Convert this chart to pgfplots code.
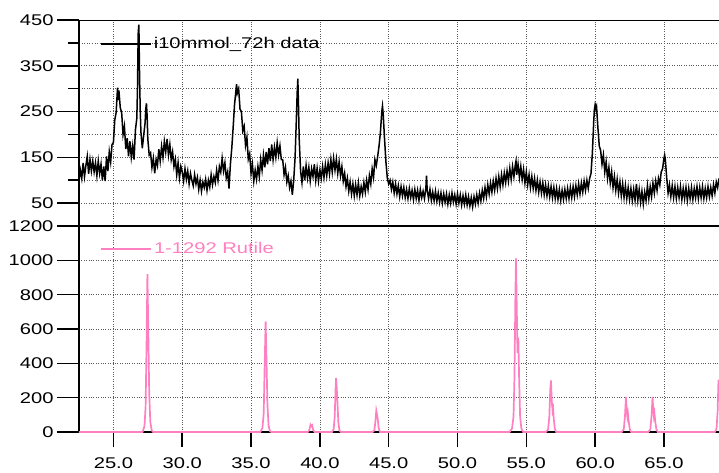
\documentclass[border=0pt]{standalone}
\usepackage{fontspec}
\setmainfont{Liberation Sans}[FakeStretch=1.3]
\usepackage{pgfplots}
\pgfplotsset{compat=1.18}
\definecolor{rutile}{HTML}{FF80C0}

\pgfplotsset{
  xrd/.style={
    scale only axis, width=640pt, height=206pt,
    xmin=22.5, xmax=69,
    axis lines=left,
    axis line style={-, line width=1.6pt},
    xtick={25,30,...,65},
    tick align=outside,
    major tick length=22pt, minor tick length=11pt,
    tick style={black, line width=1.6pt},
    grid style={dotted, black!65, line width=0.6pt},
    minor grid style={dotted, black!65, line width=0.6pt},
    /pgf/number format/assume math mode=true,
    /pgf/number format/1000 sep={},
    ticklabel style={font=\fontsize{15.5}{18}\selectfont},
    legend style={draw=none, fill=none, inner sep=0pt,
      font=\fontsize{15.5}{18}\selectfont, anchor=west},
    legend image code/.code={\draw[#1] (0pt,0pt) -- (50pt,0pt);},
    clip=true,
  }
}

\begin{document}
\begin{tikzpicture}
\path[use as bounding box] (-79pt,-40pt) rectangle (640pt,432pt);

% lower panel: reference pattern
\begin{axis}[xrd, at={(0,0)}, anchor=south west,
  ymin=0, ymax=1200, ytick={0,200,...,1200},
  xticklabels={25.0,30.0,35.0,40.0,45.0,50.0,55.0,60.0,65.0},
  xtick style={/pgfplots/major tick length=15pt},
  grid=major,
  legend style={at={(0.033,0.888)}, text=rutile},
  ]
\addplot[rutile, line width=1.7pt] coordinates {
(22.5,0)
(27.12,0) (27.26,35) (27.34,150) (27.41,520) (27.47,920) (27.53,620) (27.6,230) (27.68,60) (27.78,10) (27.88,0)
(35.68,0) (35.83,25) (35.92,110) (35.99,390) (36.06,645) (36.12,430) (36.19,160) (36.27,40) (36.37,5) (36.47,0)
(39.13,0) (39.25,15) (39.32,43) (39.38,35) (39.44,40) (39.52,10) (39.62,0)
(40.88,0) (41.0,15) (41.08,90) (41.14,250) (41.18,315) (41.23,250) (41.28,170) (41.34,60) (41.42,10) (41.52,0)
(43.83,0) (43.96,10) (44.04,65) (44.1,125) (44.16,100) (44.2,80) (44.27,25) (44.37,0)
(53.78,0) (53.96,20) (54.07,90) (54.14,320) (54.21,820) (54.25,1011) (54.31,700) (54.36,460) (54.42,550) (54.48,300) (54.55,90) (54.64,20) (54.77,0)
(56.43,0) (56.58,15) (56.67,85) (56.74,250) (56.79,301) (56.85,180) (56.89,140) (56.93,165) (56.99,80) (57.07,20) (57.17,0)
(61.93,0) (62.08,15) (62.17,95) (62.24,204) (62.3,120) (62.34,90) (62.38,110) (62.44,60) (62.52,15) (62.62,0)
(63.86,0) (64.01,15) (64.1,95) (64.17,204) (64.23,120) (64.27,90) (64.31,110) (64.37,60) (64.45,15) (64.55,0)
(68.7,0) (68.82,20) (68.9,120) (68.96,300) (69.0,300)
};
\addlegendentry{1-1292 Rutile}
\end{axis}

% upper panel: measured data
\begin{axis}[xrd, at={(0,206pt)}, anchor=south west,
  ymin=0, ymax=450, ytick={50,150,...,450}, minor ytick={100,200,300,400},
  xticklabels={}, xtick style={draw=none},
  grid=both,
  legend style={at={(0.033,0.883)}, text=black},
  ]
\addplot[black, line width=1.5pt] coordinates {
(22.5,100) (22.6,122) (22.7,104) (22.8,138) (22.9,108) (23.0,132) (23.1,152) (23.2,114) (23.3,145) (23.4,120)
(23.5,142) (23.6,118) (23.7,138) (23.8,110) (23.9,142) (24.0,115) (24.1,135) (24.2,100) (24.3,130) (24.4,98)
(24.5,152) (24.6,120) (24.7,162) (24.8,140) (24.9,178) (25.0,182) (25.1,232) (25.2,248) (25.3,302) (25.35,275)
(25.4,296) (25.5,258) (25.6,248) (25.7,200) (25.8,218) (25.9,168) (26.0,192) (26.1,152) (26.2,185) (26.3,150)
(26.4,175) (26.5,145) (26.6,210) (26.7,235) (26.75,300) (26.8,420) (26.85,440) (26.9,330) (26.95,250) (27.0,205)
(27.1,170) (27.2,198) (27.3,225) (27.35,255) (27.4,268) (27.45,240) (27.5,190) (27.6,155) (27.7,160) (27.8,128)
(27.9,148) (28.0,115) (28.1,145) (28.2,132) (28.3,168) (28.4,142) (28.5,174) (28.6,150) (28.7,185) (28.8,162)
(28.9,190) (29.0,155) (29.1,178) (29.2,145) (29.3,162) (29.4,130) (29.5,146) (29.6,112) (29.7,138) (29.8,105)
(29.9,130) (30.0,118) (30.1,98) (30.2,125) (30.3,102) (30.4,120) (30.5,92) (30.6,115) (30.7,100) (30.8,88)
(30.9,112) (31.0,92) (31.1,106) (31.2,80) (31.3,100) (31.4,76) (31.5,96) (31.6,84) (31.7,102) (31.8,78)
(31.9,100) (32.0,85) (32.1,112) (32.2,90) (32.3,108) (32.4,95) (32.5,122) (32.6,100) (32.7,130) (32.8,118)
(32.9,148) (33.0,120) (33.1,138) (33.2,105) (33.3,118) (33.4,82) (33.5,135) (33.6,170) (33.7,215) (33.8,265)
(33.9,295) (33.95,310) (34.0,290) (34.1,300) (34.2,255) (34.3,250) (34.4,208) (34.5,218) (34.6,176) (34.7,194)
(34.8,146) (34.9,158) (35.0,115) (35.1,135) (35.2,98) (35.3,122) (35.4,102) (35.5,130) (35.6,108) (35.7,145)
(35.8,122) (35.9,155) (36.0,128) (36.1,162) (36.2,135) (36.3,170) (36.4,142) (36.5,178) (36.6,145) (36.7,172)
(36.8,150) (36.9,182) (37.0,155) (37.1,175) (37.2,145) (37.3,145) (37.4,112) (37.5,128) (37.6,96) (37.7,110)
(37.8,84) (37.9,98) (38.0,68) (38.1,100) (38.2,150) (38.3,240) (38.35,290) (38.4,322) (38.45,260) (38.5,190)
(38.6,120) (38.7,95) (38.8,130) (38.9,100) (39.0,132) (39.1,105) (39.2,128) (39.3,98) (39.4,125) (39.5,108)
(39.6,135) (39.7,100) (39.8,126) (39.9,98) (40.0,122) (40.1,104) (40.2,130) (40.3,106) (40.4,134) (40.5,110)
(40.6,138) (40.7,114) (40.8,145) (40.9,118) (41.0,148) (41.1,122) (41.2,146) (41.3,115) (41.4,140) (41.5,110)
(41.6,130) (41.7,98) (41.8,115) (41.9,86) (42.0,104) (42.1,76) (42.2,96) (42.3,70) (42.4,92) (42.5,66)
(42.6,90) (42.7,68) (42.8,94) (42.9,66) (43.0,86) (43.1,70) (43.2,95) (43.3,74) (43.4,100) (43.5,80)
(43.6,110) (43.7,92) (43.8,125) (43.9,106) (44.0,145) (44.1,132) (44.2,152) (44.3,175) (44.4,205) (44.5,250)
(44.55,262) (44.6,245) (44.7,190) (44.8,140) (44.9,105) (45.0,92) (45.1,100) (45.2,80) (45.3,96) (45.4,72)
(45.5,92) (45.6,70) (45.7,88) (45.8,64) (45.9,86) (46.0,66) (46.1,84) (46.2,62) (46.3,80) (46.4,60)
(46.5,82) (46.6,62) (46.7,78) (46.8,58) (46.9,80) (47.0,60) (47.1,78) (47.2,56) (47.3,80) (47.4,62)
(47.5,76) (47.6,60) (47.7,82) (47.75,110) (47.8,78) (47.9,60) (48.0,80) (48.1,56) (48.2,74) (48.3,55)
(48.4,76) (48.5,54) (48.6,72) (48.7,52) (48.8,72) (48.9,50) (49.0,70) (49.1,52) (49.2,70) (49.3,48)
(49.4,68) (49.5,50) (49.6,72) (49.7,52) (49.8,68) (49.9,48) (50.0,70) (50.1,50) (50.2,68) (50.3,46)
(50.4,66) (50.5,48) (50.6,68) (50.7,46) (50.8,64) (50.9,44) (51.0,62) (51.1,42) (51.2,64) (51.3,48)
(51.4,68) (51.5,50) (51.6,72) (51.7,55) (51.8,78) (51.9,60) (52.0,84) (52.1,64) (52.2,90) (52.3,70)
(52.4,94) (52.5,74) (52.6,98) (52.7,78) (52.8,104) (52.9,82) (53.0,108) (53.1,86) (53.2,112) (53.3,90)
(53.4,116) (53.5,95) (53.6,120) (53.7,98) (53.8,126) (53.9,102) (54.0,130) (54.1,108) (54.2,134) (54.25,142)
(54.3,112) (54.4,135) (54.5,106) (54.6,130) (54.7,102) (54.8,124) (54.9,94) (55.0,118) (55.1,90) (55.2,112)
(55.3,84) (55.4,108) (55.5,82) (55.6,104) (55.7,78) (55.8,100) (55.9,74) (56.0,96) (56.1,72) (56.2,94)
(56.3,68) (56.4,90) (56.5,66) (56.6,88) (56.7,64) (56.8,86) (56.9,62) (57.0,84) (57.1,60) (57.2,82)
(57.3,58) (57.4,80) (57.5,56) (57.6,78) (57.7,58) (57.8,80) (57.9,60) (58.0,82) (58.1,60) (58.2,84)
(58.3,62) (58.4,86) (58.5,64) (58.6,88) (58.7,68) (58.8,92) (58.9,70) (59.0,94) (59.1,74) (59.2,98)
(59.3,78) (59.4,100) (59.5,82) (59.6,104) (59.7,115) (59.8,160) (59.9,230) (59.95,255) (60.0,265) (60.05,258)
(60.1,262) (60.2,215) (60.3,175) (60.4,165) (60.5,135) (60.6,155) (60.7,118) (60.8,140) (60.9,104) (61.0,128)
(61.1,94) (61.2,118) (61.3,84) (61.4,108) (61.5,78) (61.6,102) (61.7,72) (61.8,96) (61.9,66) (62.0,92)
(62.1,62) (62.2,88) (62.3,60) (62.4,84) (62.5,58) (62.6,82) (62.7,56) (62.8,80) (62.9,56) (63.0,92)
(63.1,56) (63.2,80) (63.3,52) (63.4,76) (63.5,48) (63.6,74) (63.7,56) (63.8,88) (63.9,60) (64.0,86)
(64.1,64) (64.2,94) (64.3,72) (64.4,98) (64.5,78) (64.6,104) (64.7,90) (64.8,118) (64.9,125) (65.0,148)
(65.05,155) (65.1,145) (65.2,105) (65.3,72) (65.4,90) (65.5,64) (65.6,88) (65.7,62) (65.8,86) (65.9,60)
(66.0,84) (66.1,62) (66.2,86) (66.3,58) (66.4,82) (66.5,60) (66.6,84) (66.7,56) (66.8,82) (66.9,60)
(67.0,84) (67.1,58) (67.2,82) (67.3,62) (67.4,86) (67.5,60) (67.6,84) (67.7,62) (67.8,86) (67.9,60)
(68.0,82) (68.1,62) (68.2,86) (68.3,64) (68.4,84) (68.5,66) (68.6,90) (68.7,72) (68.8,96) (68.9,84)
(69.0,104)
};
\addlegendentry{i10mmol\_72h data}
\draw[line width=1.6pt] (rel axis cs:0,1) -- (rel axis cs:1,1);
\end{axis}
\end{tikzpicture}
\end{document}
